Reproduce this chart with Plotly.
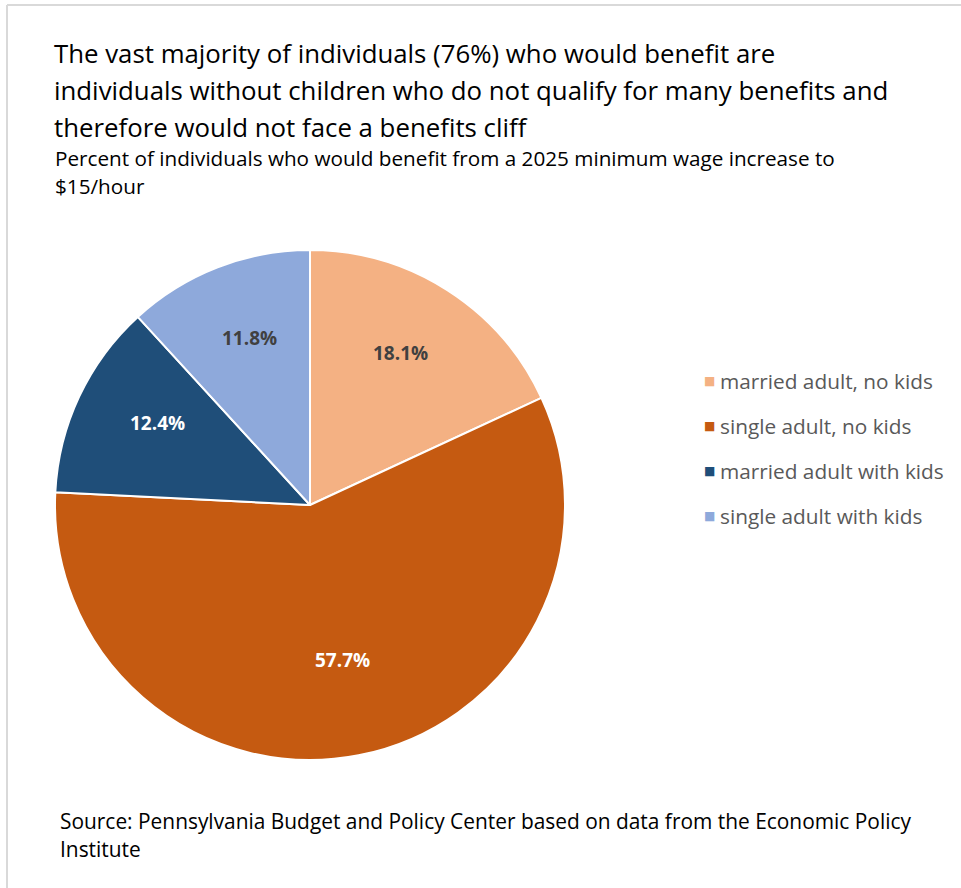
import math
import plotly.graph_objects as go

categories = ["married adult, no kids", "single adult, no kids",
              "married adult with kids", "single adult with kids"]
values = [18.1, 57.7, 12.4, 11.8]
colors = ["#F4B183", "#C55A11", "#1F4E79", "#8EA9DB"]
label_colors = ["#404040", "#FFFFFF", "#FFFFFF", "#404040"]

title_lines = [
    "The vast majority of individuals (76%) who would benefit are",
    "individuals without children who do not qualify for many benefits and",
    "therefore would not face a benefits cliff",
]
subtitle_lines = [
    "Percent of individuals who would benefit from a 2025 minimum wage increase to",
    "$15/hour",
]
source_lines = [
    "Source: Pennsylvania Budget and Policy Center based on data from the Economic Policy",
    "Institute",
]

W, H = 961, 888
FONT = "Open Sans, Noto Sans, sans-serif"

def py(px):
    return 1 - px / H

def px_x(px):
    return px / W

# pie placement (pixels)
PX0, PX1, PY0, PY1 = 55, 565, 250, 760
cx, cy = (PX0 + PX1) / 2, (PY0 + PY1) / 2
R = (PX1 - PX0) / 2

fig = go.Figure()
fig.add_trace(go.Pie(
    labels=categories, values=values, sort=False, direction="clockwise",
    rotation=0,
    marker=dict(colors=colors, line=dict(color="white", width=2)),
    textinfo="none",
    domain=dict(x=[px_x(PX0), px_x(PX1)], y=[py(PY1), py(PY0)]),
    showlegend=False, hoverinfo="label+value",
))

annotations = []
# data labels at mid-angle of each slice
total = sum(values)
cum = 0.0
for v, lc in zip(values, label_colors):
    mid = (cum + v / 2) / total * 2 * math.pi
    cum += v
    r = 0.66 * R
    lx = cx + r * math.sin(mid)
    ly = cy - r * math.cos(mid) - 10
    annotations.append(dict(text=f"<b>{v:.1f}%</b>", x=px_x(lx), y=py(ly), xref="paper", yref="paper",
                            xanchor="center", yanchor="middle", showarrow=False,
                            font=dict(family=FONT, size=19, color=lc)))

for i, t in enumerate(title_lines):
    annotations.append(dict(text=t, x=px_x(52), y=py(53 + 37 * i), xref="paper", yref="paper",
                            xanchor="left", yanchor="middle", showarrow=False,
                            font=dict(family=FONT, size=25.8, color="#000000")))
for i, t in enumerate(subtitle_lines):
    annotations.append(dict(text=t, x=px_x(53), y=py(158 + 28 * i), xref="paper", yref="paper",
                            xanchor="left", yanchor="middle", showarrow=False,
                            font=dict(family=FONT, size=20.7, color="#000000")))
for i, t in enumerate(source_lines):
    annotations.append(dict(text=t, x=px_x(58), y=py(821 + 28 * i), xref="paper", yref="paper",
                            xanchor="left", yanchor="middle", showarrow=False,
                            font=dict(family=FONT, size=20.9, color="#000000")))
# legend built from categories/colors
for i, (c, col) in enumerate(zip(categories, colors)):
    yy = py(381 + 45 * i)
    annotations.append(dict(text="■", x=px_x(709), y=yy, xref="paper", yref="paper",
                            xanchor="center", yanchor="middle", showarrow=False,
                            font=dict(family="DejaVu Sans", size=12, color=col)))
    annotations.append(dict(text=c, x=px_x(718), y=yy, xref="paper", yref="paper",
                            xanchor="left", yanchor="middle", showarrow=False,
                            font=dict(family=FONT, size=20.8, color="#595959")))

shapes = [
    dict(type="line", xref="paper", yref="paper", x0=px_x(7), x1=1, y0=py(5), y1=py(5),
         line=dict(color="#D9D9D9", width=2)),
    dict(type="line", xref="paper", yref="paper", x0=px_x(7), x1=px_x(7), y0=py(5), y1=0,
         line=dict(color="#D9D9D9", width=2)),
]

fig.update_layout(
    width=W, height=H, margin=dict(l=0, r=0, t=0, b=0),
    paper_bgcolor="white", plot_bgcolor="white",
    annotations=annotations, shapes=shapes, showlegend=False,
)
fig.write_html("out.html")
